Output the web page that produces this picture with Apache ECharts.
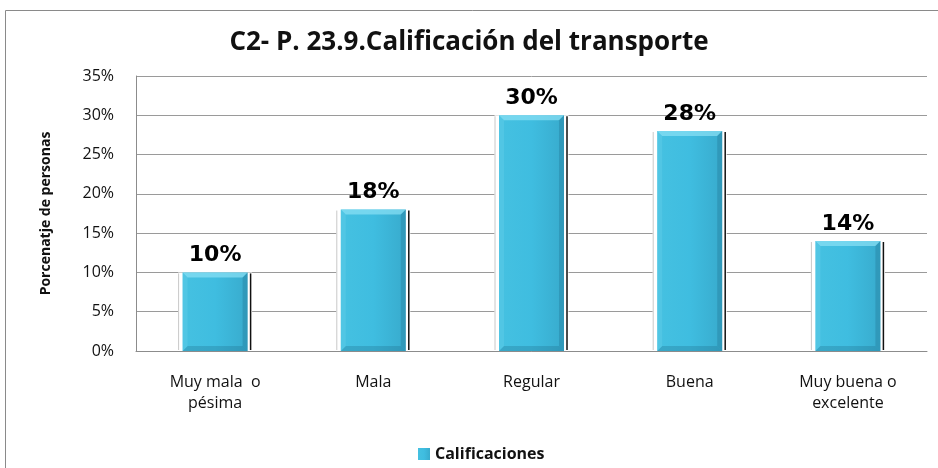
<!DOCTYPE html>
<html>
<head>
<meta charset="utf-8">
<script src="https://cdn.jsdelivr.net/npm/echarts@6/dist/echarts.min.js"></script>
<style>
  html, body { margin: 0; padding: 0; background: #fff; }
  #chart { width: 938px; height: 468px; }
</style>
</head>
<body>
<div id="chart"></div>
<script>
const categories = ['Muy mala  o\npésima', 'Mala', 'Regular', 'Buena', 'Muy buena o\nexcelente'];
const values = [10, 18, 30, 28, 14];
const yTicks = [0, 5, 10, 15, 20, 25, 30, 35];
const seriesName = 'Calificaciones';

const FONT = 'Open Sans';
const chart = echarts.init(document.getElementById('chart'));

// white gap in the gridlines behind each column, gray left edge and dark right shadow
function renderBacking(params, api) {
  const top = api.coord([api.value(0), api.value(1)]);
  const base = api.coord([api.value(0), 0]);
  const half = 37;
  return {
    type: 'group',
    children: [
      { type: 'rect', shape: { x: top[0] - half, y: top[1], width: half * 2, height: base[1] - top[1] - 1 },
        style: { fill: '#fff' } },
      { type: 'line', shape: { x1: top[0] - half + 0.5, y1: top[1] + 1, x2: top[0] - half + 0.5, y2: base[1] - 1 },
        style: { stroke: '#c8c8c8', lineWidth: 1 } },
      { type: 'line', shape: { x1: top[0] + half - 1.5, y1: top[1] + 1, x2: top[0] + half - 1.5, y2: base[1] - 1 },
        style: { stroke: '#111', lineWidth: 1.5 } }
    ]
  };
}

// soft bevel on each column
function renderBevel(params, api) {
  const top = api.coord([api.value(0), api.value(1)]);
  const base = api.coord([api.value(0), 0]);
  const half = 32.5;
  const b = 5;
  const x0 = top[0] - half, x1 = top[0] + half, y0 = top[1], y1 = base[1];
  return {
    type: 'group',
    children: [
      { type: 'polygon', shape: { points: [[x0, y0], [x1, y0], [x1 - b, y0 + b], [x0 + b, y0 + b]] },
        style: { fill: 'rgba(140,225,245,0.7)' } },
      { type: 'polygon', shape: { points: [[x1, y0], [x1, y1], [x1 - b, y1 - b], [x1 - b, y0 + b]] },
        style: { fill: 'rgba(30,110,140,0.3)' } },
      { type: 'polygon', shape: { points: [[x0, y1], [x1, y1], [x1 - b, y1 - b], [x0 + b, y1 - b]] },
        style: { fill: 'rgba(30,110,140,0.3)' } },
      { type: 'polygon', shape: { points: [[x0, y0], [x0 + b, y0 + b], [x0 + b, y1 - b], [x0, y1]] },
        style: { fill: 'rgba(120,215,240,0.25)' } }
    ]
  };
}

const seriesData = values.map((v, i) => [i, v]);

const option = {
  backgroundColor: '#fff',
  animation: false,
  title: {
    text: 'C2- P. 23.9.Calificación del transporte',
    left: 'center',
    top: 25,
    textStyle: {
      fontFamily: FONT,
      fontWeight: 'bold',
      fontSize: 26,
      color: '#111'
    }
  },
  legend: {
    data: [seriesName],
    left: 413,
    top: 441,
    icon: 'rect',
    itemWidth: 12,
    itemHeight: 12,
    itemGap: 5,
    textStyle: { fontFamily: FONT, fontWeight: 'bold', fontSize: 16, color: '#111' }
  },
  grid: { left: 136, right: 11, top: 76, bottom: 117 },
  xAxis: {
    type: 'category',
    data: categories,
    axisLine: { lineStyle: { color: '#8c8c8c' } },
    axisTick: { show: false },
    axisLabel: {
      fontFamily: FONT,
      fontSize: 16,
      color: '#111',
      lineHeight: 21,
      margin: 21
    }
  },
  yAxis: {
    type: 'value',
    min: 0,
    max: 35,
    interval: 5,
    name: 'Porcenatje de personas',
    nameLocation: 'middle',
    nameGap: 83,
    nameTextStyle: { fontFamily: FONT, fontWeight: 'bold', fontSize: 14, color: '#111' },
    axisLine: { show: true, lineStyle: { color: '#8c8c8c' } },
    axisTick: { show: false },
    splitLine: { lineStyle: { color: '#9a9a9a' } },
    axisLabel: {
      fontFamily: FONT,
      fontSize: 16,
      color: '#111',
      margin: 22,
      formatter: (v) => yTicks.includes(v) ? v + '%' : ''
    }
  },
  graphic: [
    { type: 'rect', shape: { x: 5.5, y: 10.5, width: 940, height: 470 },
      style: { fill: 'none', stroke: '#8a8a8a', lineWidth: 1 }, z: -1 }
  ],
  series: [
    {
      type: 'custom',
      name: 'backing',
      renderItem: renderBacking,
      data: seriesData,
      z: 1,
      silent: true
    },
    {
      type: 'bar',
      name: seriesName,
      data: values,
      barWidth: 65,
      z: 2,
      itemStyle: {
        color: new echarts.graphic.LinearGradient(0, 0, 1, 0, [
          { offset: 0, color: '#45c1e1' },
          { offset: 0.5, color: '#3fbde0' },
          { offset: 1, color: '#38abcd' }
        ])
      },
      label: {
        show: true,
        position: 'top',
        distance: 6,
        formatter: '{c}%',
        fontFamily: 'DejaVu Sans',
        fontWeight: 'bold',
        fontSize: 22,
        color: '#000'
      }
    },
    {
      type: 'custom',
      name: 'bevel',
      renderItem: renderBevel,
      data: seriesData,
      z: 3,
      silent: true
    }
  ]
};

chart.setOption(option);
</script>
</body>
</html>
